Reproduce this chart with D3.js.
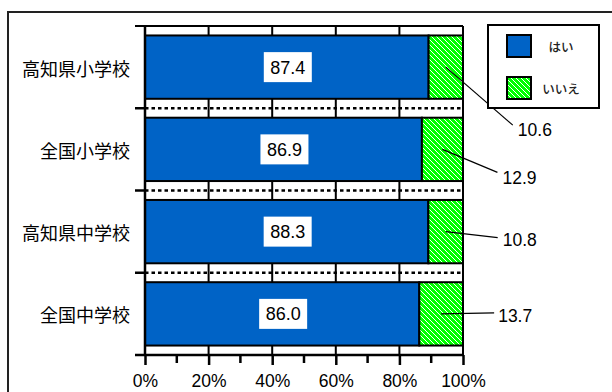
<!DOCTYPE html>
<html>
<head>
<meta charset="utf-8">
<script src="https://cdn.jsdelivr.net/npm/d3@7"></script>
<style>
html,body{margin:0;padding:0;background:#fff;}
svg{display:block;}
</style>
</head>
<body>
<script>
// ---- data ----
const categories = ["高知県小学校", "全国小学校", "高知県中学校", "全国中学校"];
const yesValues = [87.4, 86.9, 88.3, 86.0];
const noValues = [10.6, 12.9, 10.8, 13.7];
const seriesNames = ["はい", "いいえ"];
const tickValues = [0, 20, 40, 60, 80, 100];
const minorTickValues = [10, 30, 50, 70, 90];

// ---- layout ----
const W = 612, H = 392;
const plot = {left: 145, right: 463, top: 26, bottom: 355};
const blue = "#0063C6";
const latin = "'Liberation Sans', Arial, sans-serif";
const cjk = "'Noto Sans CJK JP', sans-serif";
// leader line end / text start offsets (relative to the centre of the いいえ segment)
const calloutLayout = [
  {lx: 67, ly: 58, tx: 72, ty: 63},
  {lx: 55, ly: 23, tx: 60, ty: 28},
  {lx: 52, ly: 6, tx: 57, ty: 8},
  {lx: 53, ly: -1, tx: 57, ty: 2}
];

const svg = d3.select("body").append("svg").attr("width", W).attr("height", H);

const defs = svg.append("defs");
const P = 5;
const pat = defs.append("pattern").attr("id", "hatch")
  .attr("patternUnits", "userSpaceOnUse").attr("width", P).attr("height", P);
pat.append("rect").attr("width", P).attr("height", P).attr("fill", "#00FF00");
pat.selectAll("rect.px").data(d3.range(P)).join("rect").attr("class", "px")
  .attr("x", d => d).attr("y", d => d).attr("width", 1).attr("height", 1)
  .attr("fill", "#ffffff").attr("shape-rendering", "crispEdges");

// outer frame
svg.append("rect").attr("x", 8).attr("y", 12).attr("width", W + 20).attr("height", H + 20)
  .attr("fill", "none").attr("stroke", "#222").attr("stroke-width", 2);

const x = d3.scaleLinear().domain([0, 100]).range([plot.left, plot.right]);
const y = d3.scaleBand().domain(categories).range([plot.top, plot.bottom])
  .paddingInner(0.23).paddingOuter(0.115);
const yb = d3.scaleBand().domain(categories).range([plot.top, plot.bottom]);

const rows = categories.map((c, i) => {
  const tot = yesValues[i] + noValues[i];
  return {cat: c, yes: yesValues[i], no: noValues[i],
          yesPct: yesValues[i] / tot * 100};
});

// vertical gridlines
svg.append("g").selectAll("line").data(tickValues.slice(1)).join("line")
  .attr("x1", d => x(d)).attr("x2", d => x(d))
  .attr("y1", plot.top).attr("y2", plot.bottom)
  .attr("stroke", "#000").attr("stroke-width", 2);

// dotted category boundary lines
const bounds = categories.slice(1).map(c => yb(c));
svg.append("g").selectAll("line").data(bounds).join("line")
  .attr("x1", plot.left).attr("x2", plot.right)
  .attr("y1", d => d).attr("y2", d => d)
  .attr("stroke", "#000").attr("stroke-width", 2.6).attr("stroke-dasharray", "3.5,3");

// top border
svg.append("line").attr("x1", plot.left - 10).attr("x2", plot.right)
  .attr("y1", plot.top).attr("y2", plot.top).attr("stroke", "#000").attr("stroke-width", 2);

// bars
const bars = svg.append("g");
bars.selectAll("rect.yes").data(rows).join("rect").attr("class", "yes")
  .attr("x", x(0)).attr("y", d => y(d.cat))
  .attr("width", d => x(d.yesPct) - x(0)).attr("height", y.bandwidth())
  .attr("fill", blue).attr("stroke", "#000").attr("stroke-width", 2);
bars.selectAll("rect.no").data(rows).join("rect").attr("class", "no")
  .attr("x", d => x(d.yesPct)).attr("y", d => y(d.cat))
  .attr("width", d => x(100) - x(d.yesPct)).attr("height", y.bandwidth())
  .attr("fill", "url(#hatch)").attr("stroke", "#000").attr("stroke-width", 2);

// y axis
svg.append("line").attr("x1", plot.left).attr("x2", plot.left)
  .attr("y1", plot.top).attr("y2", plot.bottom).attr("stroke", "#000").attr("stroke-width", 2.5);
svg.append("g").selectAll("line").data(bounds).join("line")
  .attr("x1", plot.left - 10).attr("x2", plot.left)
  .attr("y1", d => d).attr("y2", d => d).attr("stroke", "#000").attr("stroke-width", 2.5);
// right border
svg.append("line").attr("x1", plot.right).attr("x2", plot.right)
  .attr("y1", plot.top).attr("y2", plot.bottom).attr("stroke", "#000").attr("stroke-width", 2);

// x axis
const xAxis = d3.axisBottom(x).tickValues(tickValues).tickSize(10).tickFormat(d => d + "%");
const gx = svg.append("g").attr("transform", `translate(0,${plot.bottom})`).call(xAxis);
gx.select(".domain").remove();
gx.selectAll(".tick line").attr("stroke", "#000").attr("stroke-width", 2.5);
gx.selectAll(".tick text").attr("font-family", latin).attr("font-size", 17.5)
  .attr("fill", "#000").attr("y", 20).attr("dy", "0.71em");
svg.append("line").attr("x1", plot.left - 10).attr("x2", plot.right + 1)
  .attr("y1", plot.bottom).attr("y2", plot.bottom).attr("stroke", "#000").attr("stroke-width", 2.5);
svg.append("g").selectAll("line").data(minorTickValues).join("line")
  .attr("x1", d => x(d)).attr("x2", d => x(d))
  .attr("y1", plot.bottom).attr("y2", plot.bottom + 8)
  .attr("stroke", "#000").attr("stroke-width", 2.5);

// category labels
svg.append("g").selectAll("text").data(categories).join("text")
  .attr("x", 130).attr("y", d => yb(d) + yb.bandwidth() / 2 + 2)
  .attr("dy", "0.36em").attr("text-anchor", "end")
  .attr("font-family", cjk).attr("font-size", 18).attr("fill", "#000")
  .text(d => d);

// value labels inside blue bars
const vl = svg.append("g").selectAll("g").data(rows).join("g")
  .attr("transform", d => `translate(${(x(0) + x(d.yesPct)) / 2 + 1},${y(d.cat) + y.bandwidth() / 2})`);
vl.append("rect").attr("x", -24).attr("y", -15).attr("width", 48).attr("height", 30).attr("fill", "#fff");
vl.append("text").attr("text-anchor", "middle").attr("dy", "0.36em")
  .attr("font-family", latin).attr("font-size", 18).attr("fill", "#000")
  .text(d => d3.format(".1f")(d.yes));

// callouts for いいえ
const co = svg.append("g").selectAll("g").data(rows).join("g")
  .attr("transform", d => `translate(${(x(d.yesPct) + x(100)) / 2},${y(d.cat) + y.bandwidth() / 2})`);
co.append("line").attr("x1", 0).attr("y1", 0)
  .attr("x2", (d, i) => calloutLayout[i].lx).attr("y2", (d, i) => calloutLayout[i].ly)
  .attr("stroke", "#000").attr("stroke-width", 1.2);
co.append("text").attr("x", (d, i) => calloutLayout[i].tx).attr("y", (d, i) => calloutLayout[i].ty)
  .attr("dy", "0.36em").attr("font-family", latin).attr("font-size", 17.5).attr("fill", "#000")
  .text(d => d3.format(".1f")(d.no));

// legend
const lg = svg.append("g");
lg.append("rect").attr("x", 488).attr("y", 25).attr("width", 111).attr("height", 83)
  .attr("fill", "#fff").attr("stroke", "#000").attr("stroke-width", 2);
const legendFills = [blue, "url(#hatch)"];
const li = lg.selectAll("g").data(seriesNames).join("g")
  .attr("transform", (d, i) => `translate(0,${i * 42})`);
li.append("rect").attr("x", 507).attr("y", 35).attr("width", 24).attr("height", 22)
  .attr("fill", (d, i) => legendFills[i]).attr("stroke", "#000").attr("stroke-width", 2);
li.append("text").attr("x", 561).attr("y", 47).attr("dy", "0.36em").attr("text-anchor", "middle")
  .attr("font-family", cjk).attr("font-size", 12.5).attr("font-weight", 500).attr("fill", "#222").text(d => d);
</script>
</body>
</html>
